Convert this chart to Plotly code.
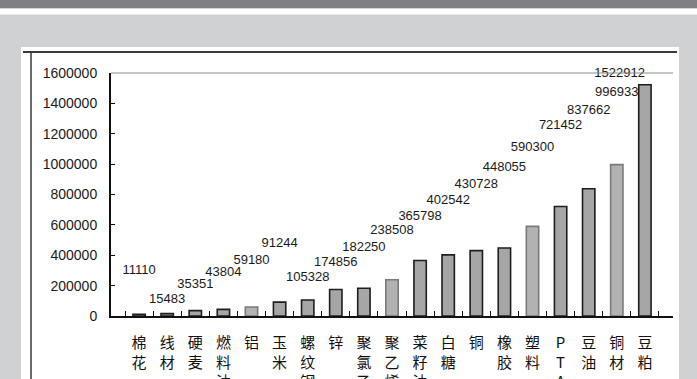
import plotly.graph_objects as go

categories = ["棉花", "线材", "硬麦", "燃料油", "铝", "玉米", "螺纹钢", "锌", "聚氯乙烯",
              "聚乙烯", "菜籽油", "白糖", "铜", "橡胶", "塑料", "PTA", "豆油", "铜材", "豆粕"]
values = [11110, 15483, 35351, 43804, 59180, 91244, 105328, 174856, 182250, 238508,
          365798, 402542, 430728, 448055, 590300, 721452, 837662, 996933, 1522912]
value_labels = ["11110", "15483", "35351", "43804", "59180", "91244", "105328", "174856",
                "182250", "238508", "365798", "402542", "430728", "448055", "590300",
                "721452", "837662", "996933", "1522912"]
# heights (data units) at which the value labels are printed in the original
label_heights = [295000, 105000, 203000, 288000, 361000, 479000, 249000, 348000, 452000,
                 564000, 656000, 761000, 866000, 977000, 1108000, 1252000, 1351000,
                 1469000, 1593000]
y_ticks = [0, 200000, 400000, 600000, 800000, 1000000, 1200000, 1400000, 1600000]
y_tick_text = ["0", "200000", "400000", "600000", "800000", "1000000", "1200000",
               "1400000", "1600000"]

faded = {4, 9, 14, 17}
line_colors = ["#7a7a7a" if i in faded else "#1e1e1e" for i in range(len(values))]
fill_colors = ["#b2b2b2" if i in faded else "#a6a6a6" for i in range(len(values))]
text_pos = ["middle center"] * (len(values) - 1) + ["middle left"]

tick_text = ["<br>".join(list(c)) if c != "PTA" else "P<br>T<br>A" for c in categories]

fig = go.Figure()
fig.add_trace(go.Bar(
    x=categories, y=values, width=0.44,
    marker=dict(color=fill_colors, line=dict(color=line_colors, width=1.6)),
    hoverinfo="skip", showlegend=False,
))
fig.add_trace(go.Scatter(
    x=categories, y=label_heights, mode="text", text=value_labels,
    textfont=dict(size=13, color="#1a1a1a", family="Liberation Sans"),
    textposition=text_pos, hoverinfo="skip", showlegend=False, cliponaxis=False,
))

L, R, T, B = 111, 24, 73, 63
W, H = 697, 379
pw, ph = W - L - R, H - T - B


def px(x):
    return (x - L) / pw


def py(y):
    return (H - B - y) / ph


shapes = [
    dict(type="rect", xref="paper", yref="paper", x0=px(-5), x1=px(W + 5), y0=py(0), y1=py(8.5),
         fillcolor="#808084", line=dict(width=0), layer="below"),
    dict(type="rect", xref="paper", yref="paper", x0=px(-5), x1=px(W + 5), y0=py(8.5), y1=py(14.5),
         fillcolor="#ffffff", line=dict(width=0), layer="below"),
    dict(type="rect", xref="paper", yref="paper", x0=px(21), x1=px(679), y0=py(47), y1=py(H + 5),
         fillcolor="#ffffff", line=dict(width=0), layer="below"),
    dict(type="line", xref="paper", yref="paper", x0=px(23), x1=px(677), y0=py(52), y1=py(52),
         line=dict(color="#3a3a3a", width=2)),
    dict(type="line", xref="paper", yref="paper", x0=px(31), x1=px(31), y0=py(52), y1=py(H + 5),
         line=dict(color="#3a3a3a", width=1.5)),
    dict(type="line", xref="paper", yref="paper", x0=0, x1=1, y0=1, y1=1,
         line=dict(color="#8a8a8a", width=1)),
]

fig.update_layout(
    width=W, height=H,
    margin=dict(l=L, r=R, t=T, b=B, pad=0, autoexpand=False),
    paper_bgcolor="#d0d1d3",
    plot_bgcolor="#c0c0c0",
    bargap=0.56,
    shapes=shapes,
    font=dict(family="Liberation Sans, Noto Sans CJK SC", color="#1a1a1a"),
    xaxis=dict(
        type="category", tickvals=categories, ticktext=tick_text, automargin=False,
        showline=True, linecolor="#111111", linewidth=2,
        ticks="inside", ticklen=5, tickcolor="#111111", tickwidth=1.2,
        tickson="boundaries", tickangle=0, ticklabelstandoff=12,
        tickfont=dict(size=15, family="Noto Sans CJK SC", color="#111111"),
        showgrid=False, fixedrange=True,
    ),
    yaxis=dict(
        range=[0, 1600000], tickvals=y_ticks, ticktext=y_tick_text, automargin=False,
        showline=True, linecolor="#111111", linewidth=2,
        ticks="inside", ticklen=4, tickcolor="#111111", tickwidth=1.2,
        showgrid=False, zeroline=False,
        tickfont=dict(size=14, family="Liberation Sans", color="#1a1a1a"),
        ticklabelstandoff=9, fixedrange=True,
    ),
)

fig.write_html("out.html")
